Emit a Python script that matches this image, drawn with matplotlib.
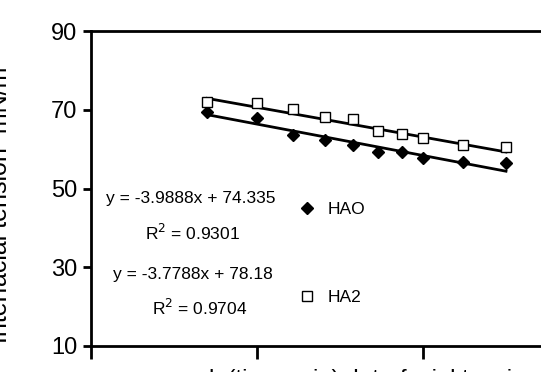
import matplotlib
matplotlib.use('Agg')
import matplotlib.pyplot as plt
import numpy as np

plt.rcParams['font.family'] = ['Liberation Sans Narrow', 'Liberation Sans', 'DejaVu Sans']

x = [1.40, 2.00, 2.43, 2.82, 3.16, 3.46, 3.75, 4.00, 4.48, 5.00]
hao = [69.5, 67.8, 63.6, 62.3, 61.0, 59.3, 59.3, 57.7, 56.8, 56.4]
ha2 = [72.0, 71.8, 70.1, 68.2, 67.6, 64.7, 63.8, 62.7, 61.0, 60.6]

hao_fit = (-3.9888, 74.335)
ha2_fit = (-3.7788, 78.18)

fig = plt.figure(figsize=(5.41, 3.72), dpi=100)
ax = fig.add_axes([91/541, 26/372, 498/541, 315/372])

xx = np.array([min(x), max(x)])
ax.plot(xx, hao_fit[0]*xx + hao_fit[1], color='black', lw=2)
ax.plot(xx, ha2_fit[0]*xx + ha2_fit[1], color='black', lw=2)
ax.plot(x, hao, linestyle='none', marker='D', markersize=6, color='black', label='HAO')
ax.plot(x, ha2, linestyle='none', marker='s', markersize=7, markerfacecolor='white',
        markeredgecolor='black', markeredgewidth=1, label='HA2')

ax.set_xlim(0, 6)
ax.set_ylim(10, 90)
ax.set_yticks([10, 30, 50, 70, 90])
ax.set_xticks([0, 2, 4, 6])
ax.set_xticklabels([])
ax.tick_params(axis='y', labelsize=17, length=6, width=2, pad=4)
ax.tick_params(axis='x', length=9, width=2)
for s in ['left', 'bottom', 'top']:
    ax.spines[s].set_linewidth(2)
ax.spines['right'].set_visible(False)

fs = 12.5
labels = [('y = -3.9888x + 74.335', 191, 198),
          (r'R$^2$ = 0.9301', 193, 233),
          ('y = -3.7788x + 78.18', 193, 275),
          (r'R$^2$ = 0.9704', 200, 308)]
for s, px, py in labels:
    ax.text(px/541, 1 - py/372, s, transform=fig.transFigure, fontsize=fs,
            ha='center', va='center')

ax.legend(loc='upper left', bbox_to_anchor=(281/541, 1 - 186/372), bbox_transform=fig.transFigure,
          frameon=False, fontsize=fs, labelspacing=4.2, handletextpad=0.6, handlelength=1.2)

# axis titles sit mostly outside the crop, as in the source image
fig.text(-0.022, 0.45, 'Interfacial tension  mN/m', rotation=90, fontsize=18,
         ha='left', va='center')
fig.text(0.69, -0.022, 'ln(time, min)  Interfacial tension', fontsize=17, ha='center', va='center')

fig.savefig('out.png', dpi=100)
